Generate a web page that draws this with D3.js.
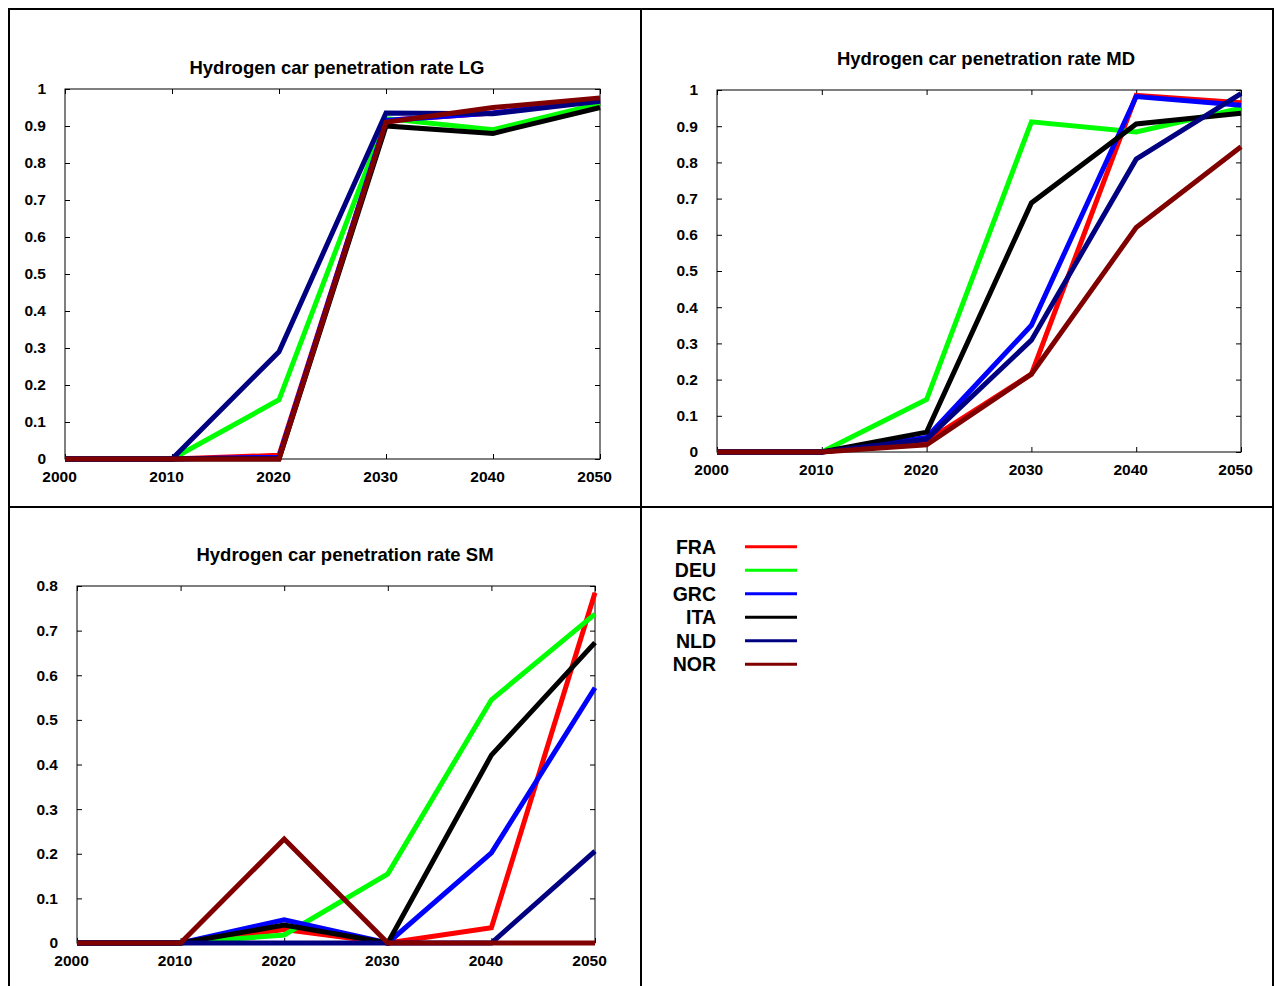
<!DOCTYPE html>
<html>
<head>
<meta charset="utf-8">
<script src="https://cdn.jsdelivr.net/npm/d3@7"></script>
<style>
  body { margin: 0; background: #fff; }
  svg { display: block; font-family: "Liberation Sans", Arial, sans-serif; font-weight: bold; }
</style>
</head>
<body>
<div id="chart"></div>
<script>
// data
const years = [2000, 2010, 2020, 2030, 2040, 2050];
const countries = ["FRA", "DEU", "GRC", "ITA", "NLD", "NOR"];
const colors = ["#ff0000", "#00ff00", "#0000ff", "#000000", "#000080", "#800000"];

const lgValues = [
    [0, 0, 0.01, 0.915, 0.935, 0.97],
    [0, 0, 0.16, 0.92, 0.89, 0.96],
    [0, 0, 0.005, 0.915, 0.935, 0.97],
    [0, 0, 0, 0.9, 0.88, 0.95],
    [0, 0, 0.29, 0.935, 0.933, 0.967],
    [0, 0, 0, 0.91, 0.95, 0.976]
];
const mdValues = [
    [0, 0, 0.03, 0.215, 0.985, 0.965],
    [0, 0, 0.145, 0.912, 0.884, 0.95],
    [0, 0, 0.04, 0.35, 0.982, 0.958],
    [0, 0, 0.055, 0.688, 0.906, 0.936],
    [0, 0, 0.035, 0.309, 0.809, 0.99],
    [0, 0, 0.02, 0.215, 0.62, 0.843]
];
const smValues = [
    [0, 0, 0.03, 0, 0.034, 0.785],
    [0, 0, 0.018, 0.155, 0.545, 0.737],
    [0, 0, 0.052, 0, 0.202, 0.572],
    [0, 0, 0.04, 0, 0.421, 0.673],
    [0, 0, 0, 0, 0, 0.206],
    [0, 0, 0.233, 0, 0, 0]
];
const lgTicks = [0, 0.1, 0.2, 0.3, 0.4, 0.5, 0.6, 0.7, 0.8, 0.9, 1];
const smTicks = [0, 0.1, 0.2, 0.3, 0.4, 0.5, 0.6, 0.7, 0.8];

// layout
const W = 1276, H = 986;
const panels = [
    {title: "Hydrogen car penetration rate LG", values: lgValues, ticks: lgTicks, yMax: 1,
     left: 65, right: 600, top: 89, bottom: 459, titleX: 337, titleY: 74},
    {title: "Hydrogen car penetration rate MD", values: mdValues, ticks: lgTicks, yMax: 1,
     left: 717, right: 1241, top: 90, bottom: 452, titleX: 986, titleY: 65},
    {title: "Hydrogen car penetration rate SM", values: smValues, ticks: smTicks, yMax: 0.8,
     left: 77, right: 595, top: 586, bottom: 943, titleX: 345, titleY: 561}
];

const svg = d3.select("#chart").append("svg")
    .attr("width", W)
    .attr("height", H);

// outer frame and dividers
svg.append("rect")
    .attr("x", 9).attr("y", 9)
    .attr("width", 1264).attr("height", 990)
    .attr("fill", "none").attr("stroke", "#000").attr("stroke-width", 2);
svg.append("line")
    .attr("x1", 641).attr("x2", 641).attr("y1", 9).attr("y2", H)
    .attr("stroke", "#000").attr("stroke-width", 2);
svg.append("line")
    .attr("x1", 9).attr("x2", 1273).attr("y1", 507).attr("y2", 507)
    .attr("stroke", "#000").attr("stroke-width", 2);

const fmt = d => String(+d.toFixed(1));

panels.forEach(p => {
    const x = d3.scaleLinear().domain([2000, 2050]).range([p.left, p.right]);
    const y = d3.scaleLinear().domain([0, p.yMax]).range([p.bottom, p.top]);
    const g = svg.append("g");

    g.append("text")
        .attr("x", p.titleX)
        .attr("y", p.titleY)
        .attr("text-anchor", "middle")
        .attr("font-size", 18.5)
        .text(p.title);

    // box
    g.append("rect")
        .attr("x", p.left).attr("y", p.top)
        .attr("width", p.right - p.left).attr("height", p.bottom - p.top)
        .attr("fill", "none").attr("stroke", "#000").attr("stroke-width", 1);

    const bottomAxis = g.append("g")
        .attr("transform", `translate(0,${p.bottom})`)
        .call(d3.axisBottom(x).tickValues(years).tickFormat(d3.format("d")).tickSize(-5).tickPadding(12));
    bottomAxis.selectAll("text").attr("dx", -6);

    g.append("g")
        .attr("transform", `translate(0,${p.top})`)
        .call(d3.axisTop(x).tickValues(years).tickFormat("").tickSize(-5));

    g.append("g")
        .attr("transform", `translate(${p.left},0)`)
        .call(d3.axisLeft(y).tickValues(p.ticks).tickFormat(fmt).tickSize(-5).tickPadding(19));

    g.append("g")
        .attr("transform", `translate(${p.right},0)`)
        .call(d3.axisRight(y).tickValues(p.ticks).tickFormat("").tickSize(-5));

    g.selectAll(".domain").remove();
    g.selectAll(".tick text")
        .attr("font-size", 15.5)
        .attr("font-weight", "bold")
        .attr("font-family", "'Liberation Sans', Arial, sans-serif")
        .attr("fill", "#000");

    const line = d3.line()
        .x((d, i) => x(years[i]))
        .y(d => y(d));

    g.selectAll("path.series")
        .data(p.values)
        .enter()
        .append("path")
        .attr("class", "series")
        .attr("d", d => line(d))
        .attr("fill", "none")
        .attr("stroke", (d, i) => colors[i])
        .attr("stroke-width", 5);
});

// legend
const legY = d3.scaleBand().domain(countries).range([535, 676]);
const leg = svg.append("g");
countries.forEach((c, i) => {
    const cy = legY(c) + legY.bandwidth() / 2;
    leg.append("text")
        .attr("x", 716)
        .attr("y", cy + 7)
        .attr("text-anchor", "end")
        .attr("font-size", 19.5)
        .text(c);
    leg.append("line")
        .attr("x1", 745).attr("x2", 797)
        .attr("y1", cy).attr("y2", cy)
        .attr("stroke", colors[i])
        .attr("stroke-width", 3);
});
</script>
</body>
</html>
